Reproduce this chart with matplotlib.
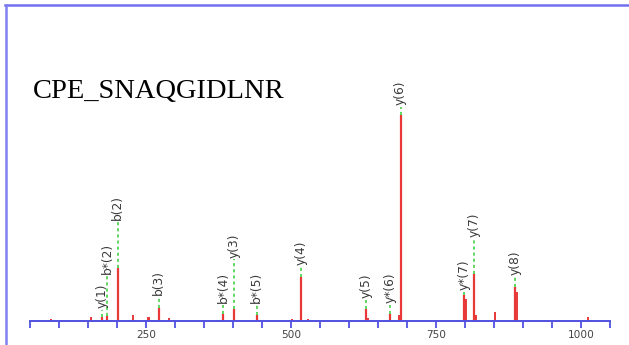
import numpy as np
import matplotlib
matplotlib.use('Agg')
import matplotlib.pyplot as plt
from matplotlib.lines import Line2D

title = 'CPE_SNAQGIDLNR'

# labelled fragment peaks: m/z, relative intensity, label, label base height
ion_mz = [174, 183, 201, 272, 383, 402, 441, 518, 630, 671, 689, 799, 816, 887]
ion_int = [2.0, 2.5, 25.7, 6.5, 3.3, 5.7, 3.0, 21.5, 5.7, 3.3, 100, 12.5, 23.0, 16.6]
ion_names = ['y(1)', 'b*(2)', 'b(2)', 'b(3)', 'b*(4)', 'y(3)', 'b*(5)', 'y(4)',
             'y(5)', 'y*(6)', 'y(6)', 'y*(7)', 'y(7)', 'y(8)']
label_base = [5.3, 22, 48, 11.7, 7.8, 30, 7.8, 26.2, 10.2, 7.8, 103.9, 14.1, 40, 21.4]

# unlabelled peaks
other_mz = [86, 156, 228, 254, 256, 289, 502, 530, 632, 686, 690.5, 801, 819,
            851, 889, 1012]
other_int = [1.0, 2.0, 3.0, 2.0, 2.0, 1.5, 1.0, 1.0, 1.5, 3.0, 13.5, 10.5, 3.0,
             4.2, 14.0, 1.8]

ticks_major = [250, 500, 750, 1000]

blue = '#5050e0'
red = '#e83838'
green = '#33cc33'

fig = plt.figure(figsize=(6.29, 3.45), dpi=100)
ax = fig.add_axes([0, 24 / 345, 1, 321 / 345])
ax.set_xlim(-1.0 / 0.58, 628.0 / 0.58)
ax.set_ylim(0, 321 / 2.06)

ax.vlines(other_mz, 0, other_int, color=red, lw=1.4)
ax.vlines(ion_mz, 0, ion_int, color=red, lw=1.6)
ax.vlines(ion_mz, ion_int, label_base, color=green, lw=1.1, linestyles=(0, (2, 2)))
for m, b, name in zip(ion_mz, label_base, ion_names):
    ax.text(m, b + 0.8, name, rotation=90, ha='center', va='bottom',
            fontsize=8.8, color='#3a3a3a')

ax.text(55, (321 - 98) / 2.06, title, fontsize=20.5, family='Liberation Serif',
        va='baseline', ha='left', color='black')

for s in ['top', 'left', 'right']:
    ax.spines[s].set_visible(False)
ax.spines['bottom'].set_color(blue)
ax.spines['bottom'].set_linewidth(1.4)
ax.spines['bottom'].set_bounds(50, 1050)
ax.set_yticks([])
ax.set_xticks(ticks_major)
ax.set_xticks(np.arange(50, 1051, 50), minor=True)
ax.tick_params(axis='x', which='both', direction='out', length=5, width=1.3,
               color=blue, labelsize=7.6, labelcolor='#444444', pad=1.5)
ax.patch.set_alpha(0)

# screenshot frame
fig.add_artist(Line2D([5 / 629, 1], [1 - 4.5 / 345, 1 - 4.5 / 345],
                      color='#7070f0', lw=1.8, transform=fig.transFigure))
fig.add_artist(Line2D([6 / 629, 6 / 629], [0, 1 - 4.5 / 345],
                      color='#8080f0', lw=1.8, transform=fig.transFigure))

fig.savefig('out.png', dpi=100)
